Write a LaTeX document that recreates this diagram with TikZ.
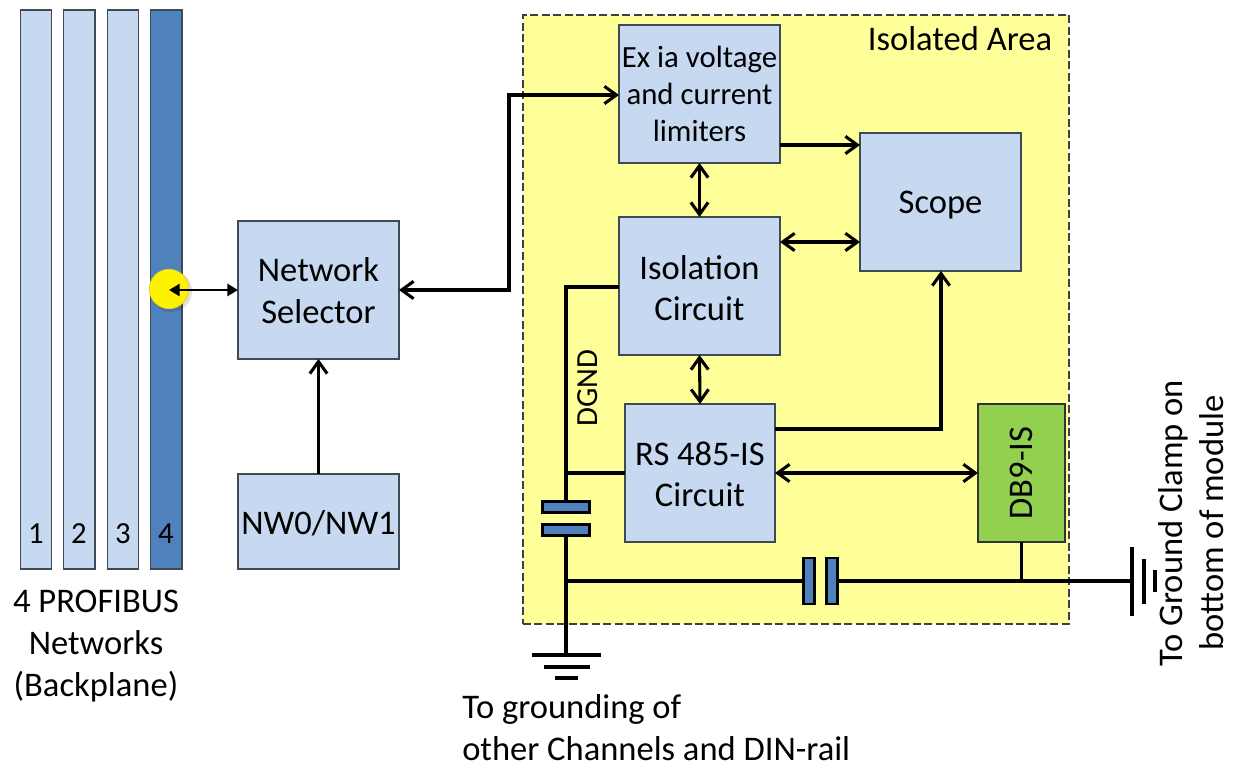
\documentclass[tikz,border=0pt]{standalone}
\usepackage{fontspec}
\setmainfont{Carlito}
\usetikzlibrary{arrows.meta,calc}
\definecolor{boxblue}{HTML}{C6D9F1}
\definecolor{barblue}{HTML}{4F81BD}
\definecolor{areayel}{HTML}{FFFF99}
\definecolor{dbgreen}{HTML}{92D050}
\definecolor{edgegrey}{HTML}{3F4A55}
\newcommand\lift[1]{\rule{0pt}{#1pt}}
\tikzset{
  blockbox/.style={draw=edgegrey,fill=boxblue,line width=1.2pt,inner sep=0pt,outer sep=0pt,align=center,font=\fontsize{25.9}{31}\selectfont},
  netbar/.style={draw=edgegrey,fill=boxblue,line width=1.2pt,inner sep=0pt,outer sep=0pt,minimum width=23.5pt,minimum height=419.25pt},
  platev/.style={draw=black,fill=barblue,line width=1.6pt,inner sep=0pt,outer sep=0pt,minimum width=8.25pt,minimum height=34.5pt},
  plateh/.style={draw=black,fill=barblue,line width=1.6pt,inner sep=0pt,outer sep=0pt,minimum width=35.25pt,minimum height=8.25pt},
  wire/.style={line width=2.3pt,line join=miter},
  barb/.tip={Straight Barb[length=9pt,width=13pt,line width=2.3pt]},
  onearrow/.style={wire,-barb},
  twoarrow/.style={wire,barb-barb},
  solidarrow/.style={line width=2.2pt,{Triangle[length=8pt,width=9pt]}-{Triangle[length=8pt,width=9pt]}},
  txt/.style={inner sep=0pt,align=center,font=\fontsize{25.9}{31.3}\selectfont},
  barnum/.style={inner sep=0pt,font=\fontsize{23}{27}\selectfont}
}
\begin{document}
\begin{tikzpicture}[x=0.75pt,y=-0.75pt]
\useasboundingbox (0,0) rectangle (1235,762);
% isolated area
\node[draw=black!75,fill=areayel,line width=0.9pt,dash pattern=on 6pt off 2.6pt,minimum width=409.5pt,minimum height=456.75pt,inner sep=0pt,outer sep=0pt] (area) at (796,319.5) {};
\node[txt] (arealabel) at (960,39) {Isolated Area};
% bars
\node[netbar] (b1) at (36,289.5) {};
\node[netbar] (b2) at (79.3,289.5) {};
\node[netbar] (b3) at (123,289.5) {};
\node[netbar,fill=barblue] (b4) at (166.3,289.5) {};
\node[barnum] (n1) at (36,534) {1};
\node[barnum] (n2) at (79,534) {2};
\node[barnum] (n3) at (123,534) {3};
\node[barnum] (n4) at (166,534) {4};
\fill[black,opacity=0.12] (171,291) circle[radius=21];
\node[circle,fill=yellow,draw=yellow!85!black,line width=0.6pt,minimum size=29.5pt,inner sep=0pt] (tap) at (169,289) {};
\coordinate (tapc) at (169,290);
% blocks
\node[blockbox,minimum width=120.75pt,minimum height=103.5pt] (ns) at (318.5,290) {\lift{19}Network\\Selector};
\node[blockbox,minimum width=120.75pt,minimum height=71.25pt] (nw) at (318.5,521.5) {\lift{20}NW0/NW1};
\node[blockbox,minimum width=120.75pt,minimum height=103.5pt,font=\fontsize{23.1}{27.75}\selectfont] (ex) at (699.5,94) {Ex ia voltage\hspace{3pt}\\and current\\limiters};
\node[blockbox,minimum width=120.75pt,minimum height=103.5pt] (iso) at (699.5,286) {\lift{21}Isolation\\Circuit};
\node[blockbox,minimum width=120.75pt,minimum height=103.5pt] (scope) at (940.5,202) {\lift{21}Scope};
\node[blockbox,minimum width=112.5pt,minimum height=103.5pt] (rs) at (700,473) {\lift{20}RS 485-IS\\Circuit};
\node[blockbox,fill=dbgreen,draw=black!80,minimum width=65.25pt,minimum height=103.5pt] (db) at (1021.5,473) {\rotatebox{90}{DB9-IS}};
% capacitors
\node[plateh] (ca) at (566,507) {};
\node[plateh] (cb) at (566,530) {};
\node[platev] (cc) at (809,581) {};
\node[platev] (cd) at (832,581) {};
% grounds
\coordinate (gndb) at (566,655);
\coordinate (gndr) at (1132,581);
\coordinate (jl) at (566,581);
\coordinate (jr) at (1021.5,581);
\coordinate (jt) at (566,473);
\coordinate (ct) at (566,287);
\coordinate (bendb) at (509,290);
\coordinate (bendt) at (509,95);
\coordinate (rsb) at (941,429);
% wires
\draw[solidarrow] (tapc) -- (ns.west);
\draw[onearrow] (nw.north) -- (ns.south);
\draw[twoarrow] (ns.east) -- (bendb) -- (bendt) -- (ex.west |- bendt);
\draw[onearrow] (ex.east |- 0,145) -- (scope.west |- 0,145);
\draw[twoarrow] (ex.south) -- (iso.north);
\draw[twoarrow] (iso.east |- 0,242) -- (scope.west |- 0,242);
\draw[twoarrow] (iso.south) -- (rs.north);
\draw[onearrow] (rs.east |- rsb) -- (rsb) -- (scope.south -| rsb);
\draw[twoarrow] (rs.east) -- (db.west);
\draw[wire] (iso.west |- ct) -- (ct) -- (ca.north);
\draw[wire] (rs.west) -- (jt);
\draw[wire] (cb.south) -- (gndb);
\draw[wire] (jl) -- (cc.west);
\draw[wire] (cd.east) -- (gndr);
\draw[wire] (db.south -| jr) -- (jr);
\draw[line width=2.4pt] (532,655) -- (601,655) (544,667) -- (590,667) (555,678) -- (578,678);
\draw[line width=2.4pt] (1132,547) -- (1132,616) (1144,559) -- (1144,604) (1155,570) -- (1155,592);
% labels
\node[txt,font=\fontsize{23}{27}\selectfont,rotate=90] (dgnd) at (588,388) {DGND};
\node[txt] (prof) at (96,646) {4 PROFIBUS\\Networks\\(Backplane)};
\node[txt,align=left,anchor=west] (grd) at (462,728) {To grounding of\\other Channels and DIN-rail};
\node[txt,rotate=90] (clamp) at (1191,523) {To Ground Clamp on\\bottom of module};
\end{tikzpicture}
\end{document}
